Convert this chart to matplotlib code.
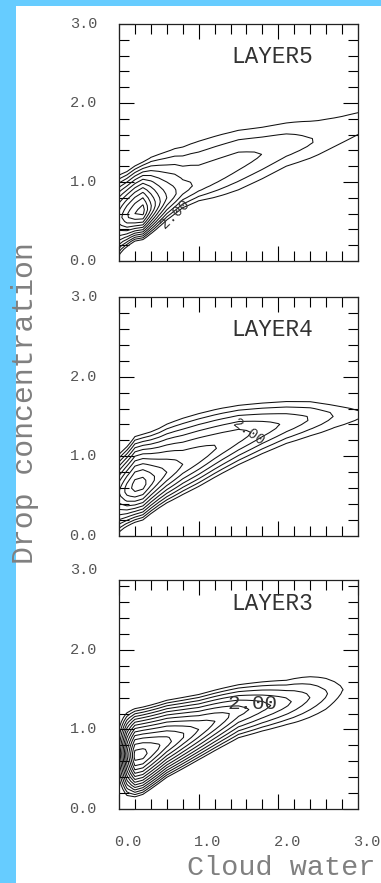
import numpy as np
import matplotlib
matplotlib.use("Agg")
import matplotlib.pyplot as plt
import matplotlib.transforms as mtransforms
from matplotlib.patches import Rectangle

# ---------------------------------------------------------------------------
# Joint frequency of cloud water (x) and drop concentration (y) per layer.
# Each layer is described along the x axis by the crest of the distribution,
# the contour value on that crest and the spread above / below it.
# ---------------------------------------------------------------------------
contour_levels = [1, 2, 3, 4, 5, 6, 7, 8, 9, 10, 11, 12, 13, 14]

layer5_x = [0.0, 0.1, 0.2, 0.3, 0.45, 0.6, 0.8, 1.0, 1.25, 1.5, 1.8, 2.1, 2.45, 2.75, 3.0]
layer5_crest = [0.55, 0.57, 0.60, 0.63, 0.70, 0.80, 0.90, 0.98, 1.12, 1.26, 1.36, 1.46, 1.52, 1.63, 1.74]
layer5_peak = [8.5, 10.0, 11.0, 11.5, 8.0, 6.0, 4.4, 3.8, 3.6, 3.4, 3.0, 2.6, 2.0, 1.7, 1.5]
layer5_up = [0.14, 0.13, 0.13, 0.13, 0.17, 0.20, 0.24, 0.27, 0.25, 0.22, 0.21, 0.21, 0.25, 0.24, 0.22]
layer5_down = [0.125, 0.09, 0.075, 0.075, 0.085, 0.096, 0.10, 0.11, 0.16, 0.20, 0.20, 0.19, 0.20, 0.20, 0.22]

layer4_x = [0.0, 0.1, 0.2, 0.3, 0.45, 0.6, 0.8, 1.0, 1.25, 1.5, 1.8, 2.1, 2.4, 2.7, 3.0]
layer4_crest = [0.55, 0.58, 0.62, 0.65, 0.72, 0.80, 0.90, 1.00, 1.13, 1.25, 1.34, 1.42, 1.48, 1.52, 1.53]
layer4_peak = [8.0, 9.5, 10.5, 10.5, 9.0, 8.0, 7.0, 6.6, 6.0, 5.5, 4.6, 3.8, 3.0, 2.0, 1.25]
layer4_up = [0.13, 0.13, 0.14, 0.14, 0.15, 0.165, 0.175, 0.17, 0.16, 0.143, 0.14, 0.135, 0.13, 0.12, 0.12]
layer4_down = [0.137, 0.11, 0.10, 0.10, 0.10, 0.105, 0.115, 0.12, 0.125, 0.13, 0.13, 0.13, 0.14, 0.16, 0.16]

layer3_x = [0.0, 0.1, 0.2, 0.3, 0.45, 0.6, 0.8, 1.0, 1.25, 1.5, 1.8, 2.1, 2.4, 2.6, 2.8, 3.0]
layer3_crest = [0.70, 0.69, 0.67, 0.69, 0.76, 0.84, 0.92, 1.00, 1.12, 1.23, 1.29, 1.34, 1.41, 1.45, 1.50, 1.52]
layer3_peak = [3.0, 9.0, 13.5, 13.5, 12.5, 11.5, 10.2, 9.0, 7.8, 6.5, 5.4, 4.3, 3.0, 2.1, 1.05, 0.3]
layer3_up = [0.19, 0.13, 0.11, 0.11, 0.11, 0.11, 0.11, 0.11, 0.108, 0.107, 0.115, 0.126, 0.16, 0.18, 0.19, 0.19]
layer3_down = [0.19, 0.13, 0.096, 0.094, 0.093, 0.092, 0.094, 0.095, 0.10, 0.107, 0.115, 0.126, 0.16, 0.18, 0.19, 0.19]

layer_names = ["LAYER5", "LAYER4", "LAYER3"]
label_texts = ["2.00", "2.00", "2.00"]
label_xy = [(0.70, 0.60), (1.63, 1.30), (1.67, 1.33)]
label_angle = [44, -36, 0]
label_size = [10.5, 10.5, 15]

x_tick_values = [0.0, 1.0, 2.0, 3.0]
x_tick_labels = ["0.0", "1.0", "2.0", "3.0"]
y_tick_values = [0.0, 1.0, 2.0, 3.0]
y_tick_labels = ["0.0", "1.0", "2.0", "3.0"]

FONT = ["Liberation Mono", "DejaVu Sans Mono"]


def frequency_field(xn, crest, peak, up, down, gx, gy):
    r = np.interp(gx, xn, crest)
    p = np.interp(gx, xn, peak)
    wu = np.interp(gx, xn, up)
    wd = np.interp(gx, xn, down)
    d = gy - r
    w = np.where(d > 0, wu, wd)
    return p - (np.abs(d) / w) ** 1.5


W, H = 381, 883
fig = plt.figure(figsize=(W / 100, H / 100), dpi=100)
fig.patch.set_facecolor("#66CCFF")
fig.add_artist(Rectangle((16 / W, 0), 1 - 16 / W, 1 - 6 / H,
                         transform=fig.transFigure, facecolor="white",
                         edgecolor="none", zorder=0))

# axes boxes in pixels: left, top, right, bottom
boxes = [(119, 24, 358, 261), (119, 297, 358, 536), (119, 580, 358, 809)]
ytops = [3.0, 3.0, 2.88]
layers = [
    (layer5_x, layer5_crest, layer5_peak, layer5_up, layer5_down),
    (layer4_x, layer4_crest, layer4_peak, layer4_up, layer4_down),
    (layer3_x, layer3_crest, layer3_peak, layer3_up, layer3_down),
]

# coarse analysis grid: 0.1 in cloud water, 0.05 in drop concentration
GX, GY = np.meshgrid(np.linspace(0, 3, 31), np.linspace(0, 3, 61))

for i, (box, ytop, layer) in enumerate(zip(boxes, ytops, layers)):
    l, t, r, b = box
    ax = fig.add_axes([l / W, (H - b) / H, (r - l) / W, (b - t) / H])
    ax.set_facecolor("none")
    F = frequency_field(*layer, GX, GY)
    ax.contour(GX, GY, F, levels=contour_levels, colors="#111111",
               linewidths=0.75)
    ax.set_xlim(0, 3)
    ax.set_ylim(0, ytop)
    ax.set_xticks(x_tick_values)
    ax.set_yticks([v for v in y_tick_values if v <= ytop])
    ax.set_xticks(np.arange(0, 3.01, 0.2), minor=True)
    ax.set_yticks(np.arange(0, ytop + 0.001, 0.2), minor=True)
    ax.tick_params(which="both", direction="in", top=True, right=True,
                   labelbottom=False, labelleft=False, color="black")
    ax.tick_params(which="major", length=10.8, width=0.8)
    ax.tick_params(which="minor", length=7.2, width=0.8)
    for s in ax.spines.values():
        s.set_linewidth(0.9)
        s.set_color("#222222")

    # y tick labels
    ytr = ax.get_yaxis_transform() + mtransforms.ScaledTranslation(-0.22, 0, fig.dpi_scale_trans)
    for v, lab in zip(y_tick_values, y_tick_labels):
        ax.text(0, v, lab, transform=ytr, ha="right", va="center",
                fontsize=11, family=FONT, color="#555555", clip_on=False)

    # layer name, 33 px below the y = 3.0 line
    ntr = ax.get_yaxis_transform() + mtransforms.ScaledTranslation(0, -0.33, fig.dpi_scale_trans)
    ax.text((231 - l) / (r - l), 3.0, layer_names[i], transform=ntr,
            ha="left", va="center", fontsize=16.4, family=FONT,
            color="#333333", clip_on=False)

    # contour label
    lx, ly = label_xy[i]
    ax.text(lx, ly, label_texts[i], rotation=label_angle[i], ha="center",
            va="center", fontsize=label_size[i], family=FONT,
            color="#333333")

    if i == 2:
        xtr = ax.get_xaxis_transform() + mtransforms.ScaledTranslation(0.09, -0.33, fig.dpi_scale_trans)
        for v, lab in zip(x_tick_values, x_tick_labels):
            ax.text(v, 0, lab, transform=xtr, ha="center", va="center",
                    fontsize=11, family=FONT, color="#555555", clip_on=False)

fig.text(25 / W, 1 - 403.5 / H, "Drop concentration", rotation=90,
         ha="center", va="center", fontsize=21.5, family=FONT, color="#808080")
fig.text(187 / W, 1 - 868 / H, "Cloud water", ha="left", va="center",
         fontsize=20.5, family=FONT, color="#808080")

fig.savefig("out.png", dpi=100, facecolor=fig.get_facecolor())
